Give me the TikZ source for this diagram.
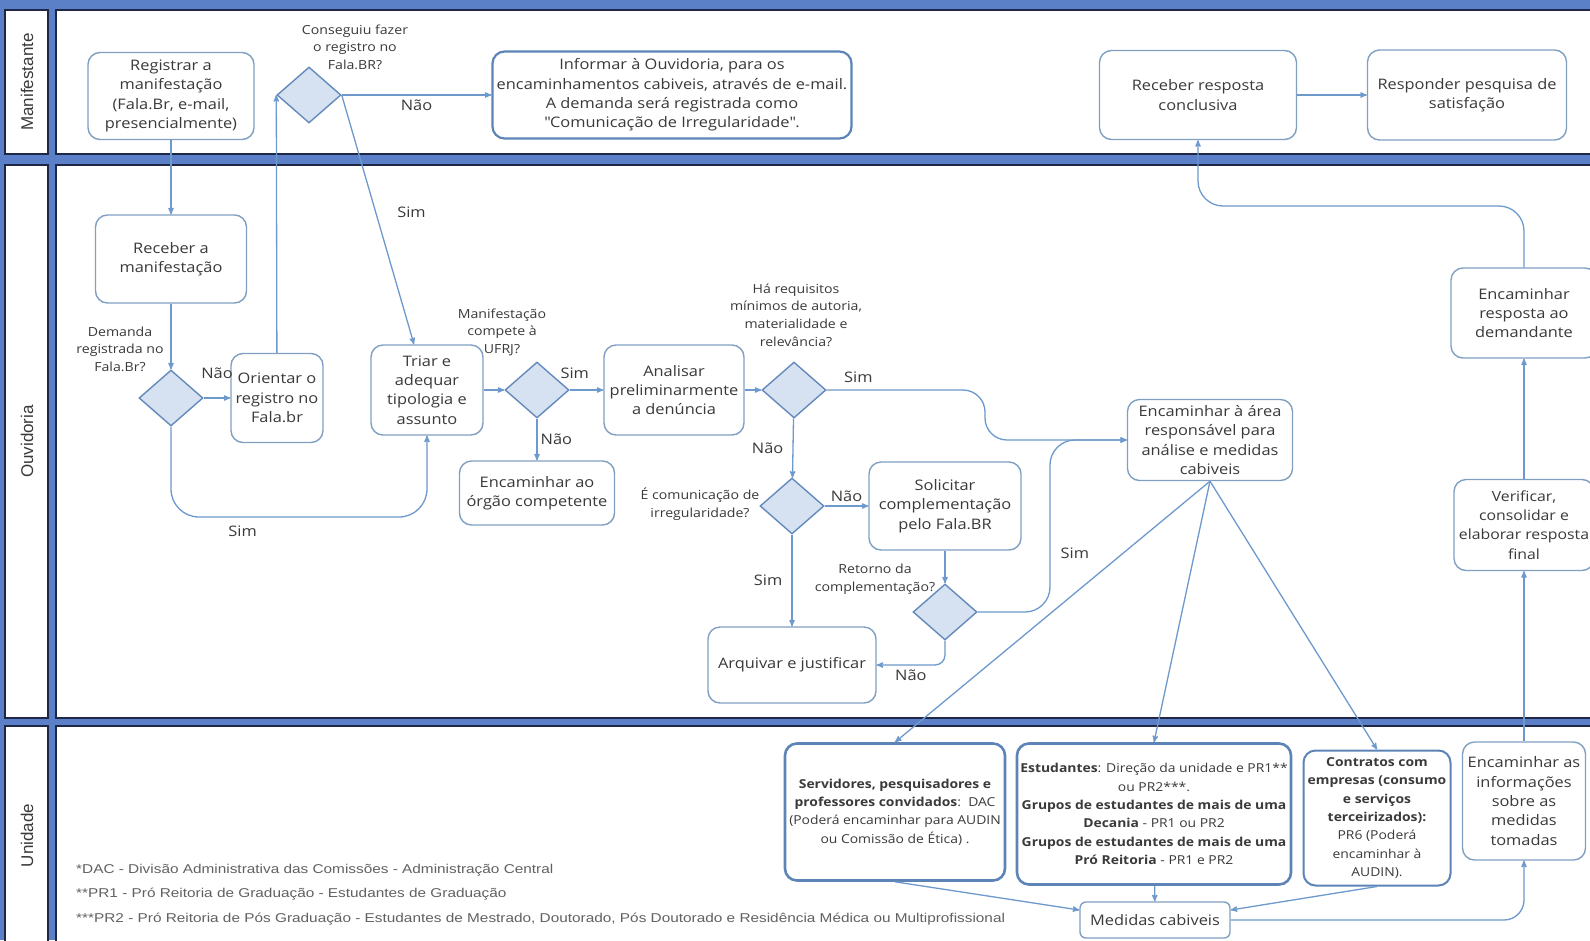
\documentclass[tikz,border=0pt]{standalone}
\usepackage{fontspec}
\setmainfont{Open Sans}[FakeStretch=1.13]
\newfontfamily\notefont{Liberation Sans}[FakeStretch=1.2]
\newfontfamily\lanefont{Liberation Sans}
\usepackage{tikz}
\usetikzlibrary{shapes.geometric}
\usetikzlibrary{positioning}
\usetikzlibrary{arrows}
\definecolor{laneblue}{RGB}{91,128,200}
\definecolor{lanedark}{RGB}{30,40,70}
\definecolor{boxline}{RGB}{128,160,194}
\definecolor{boxdark}{RGB}{92,132,182}
\definecolor{flowline}{RGB}{110,153,204}
\definecolor{diafill}{RGB}{214,226,241}
\definecolor{dialine}{RGB}{100,138,188}
\definecolor{txt}{RGB}{58,58,58}

\begin{document}
\begin{tikzpicture}[
            x=1pt, y=-1pt,
            task/.style={rectangle, rounded corners=12pt, draw=boxline, line width=1.4pt, fill=white, align=center, text=txt, inner sep=2pt, font=\fontsize{14.5}{19.3}\selectfont},
            bigtask/.style={task, draw=boxdark, line width=2.2pt},
            unitbox/.style={task, draw=boxdark, line width=2.6pt, font=\fontsize{12.3}{18.3}\selectfont},
            decision/.style={diamond, draw=dialine, fill=diafill, line width=1.4pt, minimum width=64pt, minimum height=56pt, inner sep=0pt},
            question/.style={align=center, text=txt, font=\fontsize{12.5}{17.6}\selectfont},
            lbl/.style={text=txt, inner sep=1pt, font=\fontsize{14.5}{16}\selectfont},
            flow/.style={draw=flowline, line width=1.3pt, ->, >=stealth'},
            lanebody/.style={fill=white, draw=lanedark, line width=2.5pt},
            lanehead/.style={rotate=90, text=txt, font=\lanefont\fontsize{17}{20}\selectfont},
            note/.style={anchor=west, text=txt!80, inner sep=0pt, font=\notefont\fontsize{12.8}{14}\selectfont}
        ]

        \useasboundingbox (0,0) rectangle (1590,940);
        \clip (0,0) rectangle (1590,940);

        % Swimlanes
        \fill[laneblue] (0,0) rectangle (1590,940);
        \foreach \ya/\yb/\lane in {10/154/Manifestante, 165/718/Ouvidoria, 726/945/Unidade}{
            \draw[lanebody] (5,\ya) rectangle (48,\yb);
            \draw[lanebody] (56,\ya) rectangle (1600,\yb);
            \node[lanehead] (lane-\lane) at (27,{(\ya+\yb)/2}) {\lane};
        }

        % Manifestante
        \node[task, minimum width=166pt, minimum height=87pt] (reg) at (171,96) {Registrar a\\manifestação\\(Fala.Br, e-mail,\\presencialmente)};
        \node[decision] (d1) at (309,95) {};
        \node[question] (q1) at (355,47) {Conseguiu fazer\\o registro no\\Fala.BR?};
        \node[bigtask, minimum width=359pt, minimum height=87pt] (info) at (672,95) {Informar à Ouvidoria, para os\\encaminhamentos cabiveis, através de e-mail.\\A demanda será registrada como\\\textquotedbl Comunicação de Irregularidade\textquotedbl.};
        \node[task, minimum width=197pt, minimum height=89pt] (rrc) at (1198,95) {Receber resposta\\conclusiva};
        \node[task, minimum width=199pt, minimum height=90pt] (rps) at (1467,95) {Responder pesquisa de\\satisfação};

        % Ouvidoria
        \node[task, minimum width=151pt, minimum height=88pt] (rec) at (171,259) {Receber a\\manifestação};
        \node[decision] (d2) at (171,398) {};
        \node[question] (q2) at (120,349) {Demanda\\registrada no\\Fala.Br?};
        \node[task, minimum width=92pt, minimum height=89pt] (ori) at (277,398) {Orientar o\\registro no\\Fala.br};
        \node[task, minimum width=112pt, minimum height=90pt] (tri) at (427,390) {Triar e\\adequar\\tipologia e\\assunto};
        \node[decision] (d3) at (537,390) {};
        \node[question] (q3) at (502,332) {Manifestação\\compete à\\UFRJ?};
        \node[task, minimum width=155pt, minimum height=64pt] (orgao) at (537,493) {Encaminhar ao\\órgão competente};
        \node[task, minimum width=140pt, minimum height=90pt] (ana) at (674,390) {Analisar\\preliminarmente\\a denúncia};
        \node[decision] (d4) at (794,390) {};
        \node[question] (q4) at (796,315) {Há requisitos\\mínimos de autoria,\\materialidade e\\relevância?};
        \node[decision] (d5) at (792,506) {};
        \node[question] (q5) at (700,504) {É comunicação de\\irregularidade?};
        \node[task, minimum width=152pt, minimum height=88pt] (sol) at (945,506) {Solicitar\\complementação\\pelo Fala.BR};
        \node[decision] (d6) at (945,612) {};
        \node[question] (q6) at (875,579) {Retorno da\\complementação?};
        \node[task, minimum width=168pt, minimum height=76pt] (arq) at (792,665) {Arquivar e justificar};
        \node[task, minimum width=165pt, minimum height=81pt] (area) at (1210,440) {Encaminhar à área\\responsável para\\análise e medidas\\cabiveis};
        \node[task, minimum width=146pt, minimum height=90pt] (resp) at (1524,313) {Encaminhar\\resposta ao\\demandante};
        \node[task, font=\fontsize{14}{19.3}\selectfont, minimum width=140pt, minimum height=91pt] (ver) at (1524,525) {Verificar,\\consolidar e\\elaborar resposta\\final};

        % Unidade
        \node[unitbox, minimum width=220pt, minimum height=137pt] (serv) at (895,812) {\textbf{Servidores, pesquisadores e}\\\textbf{professores convidados}:\ \ DAC\\(Poderá encaminhar para AUDIN\\ou Comissão de Ética) .};
        \node[unitbox, minimum width=274pt, minimum height=141pt] (estud) at (1154,814) {\textbf{Estudantes}: Direção da unidade e PR1**\\ou PR2***.\\\textbf{Grupos de estudantes de mais de uma}\\\textbf{Decania} - PR1 ou PR2\\\textbf{Grupos de estudantes de mais de uma}\\\textbf{Pró Reitoria} - PR1 e PR2};
        \node[unitbox, line width=2pt, minimum width=147pt, minimum height=135pt] (contr) at (1377,818) {\textbf{Contratos com}\\\textbf{empresas (consumo}\\\textbf{e serviços}\\\textbf{terceirizados):}\\PR6 (Poderá\\encaminhar à\\AUDIN).};
        \node[task, minimum width=123pt, minimum height=118pt] (info2) at (1524,801) {Encaminhar as\\informações\\sobre as\\medidas\\tomadas};
        \node[task, rounded corners=6pt, minimum width=150pt, minimum height=36pt] (med) at (1155,920) {Medidas cabiveis};

        % Footnotes
        \node[note] (n1) at (76,870) {*DAC - Divisão Administrativa das Comissões - Administração Central};
        \node[note] (n2) at (76,894) {**PR1 - Pró Reitoria de Graduação - Estudantes de Graduação};
        \node[note] (n3) at (76,919) {***PR2 - Pró Reitoria de Pós Graduação - Estudantes de Mestrado, Doutorado, Pós Doutorado e Residência Médica ou Multiprofissional};

        % Connections
        \draw[flow] (reg) -- (rec);
        \draw[flow] (rec) -- (d2);
        \draw[flow] (d1.east) -- node[lbl, below=3pt] {Não} (info);
        \draw[flow] (d1.east) -- node[lbl, pos=0.47, right=20pt] {Sim} ([xshift=-13pt]tri.north);
        \draw[flow] (d2) -- node[lbl, above=18pt] {Não} (ori);
        \draw[flow] (ori) -- (d1.west);
        \draw[flow, rounded corners=28pt] (d2.south) -- (d2.south |- 0,517) -- node[lbl, below=7pt, pos=0.28] {Sim} (tri.south |- 0,517) -- (tri.south);
        \draw[flow] (tri) -- (d3);
        \draw[flow] (d3) -- node[lbl, pos=0.15, above=10pt] {Sim} (ana);
        \draw[flow] (d3) -- node[lbl, right=2pt] {Não} (orgao);
        \draw[flow] (ana) -- (d4);
        \draw[flow, rounded corners=22pt] (d4.east) -| node[lbl, pos=0.1, above=6pt] {Sim} (985,440) -- (area.west);
        \draw[flow] (d4) -- node[lbl, left=8pt] {Não} (d5);
        \draw[flow] (d5) -- node[lbl, above=3pt] {Não} (sol);
        \draw[flow] (d5) -- node[lbl, left=8pt] {Sim} (arq);
        \draw[flow] (sol) -- (d6);
        \draw[flow, rounded corners=25pt] (d6.east) -| node[lbl, pos=0.67, right=9pt] {Sim} (1050,440) -- (area.west);
        \draw[flow, rounded corners=10pt] (d6.south) |- node[lbl, pos=0.75, below=3pt] {Não} (arq.east);

        % Unidade links
        \draw[flow] (area.south) -- (serv.north);
        \draw[flow] (area.south) -- (estud.north);
        \draw[flow] (area.south) -- (contr.north);
        \draw[flow] (serv.south) -- ([yshift=10pt]med.west);
        \draw[flow] (estud) -- (med);
        \draw[flow] (contr.south) -- ([yshift=10pt]med.east);
        \draw[flow, rounded corners=20pt] (med.east) -| (info2.south);
        \draw[flow] (info2) -- (ver);
        \draw[flow] (ver) -- (resp);
        \draw[flow, rounded corners=25pt] (resp.north) -- (resp.north |- 0,206) -- (rrc.south |- 0,206) -- (rrc.south);
        \draw[flow] (rrc) -- (rps);

    \end{tikzpicture}
\end{document}
